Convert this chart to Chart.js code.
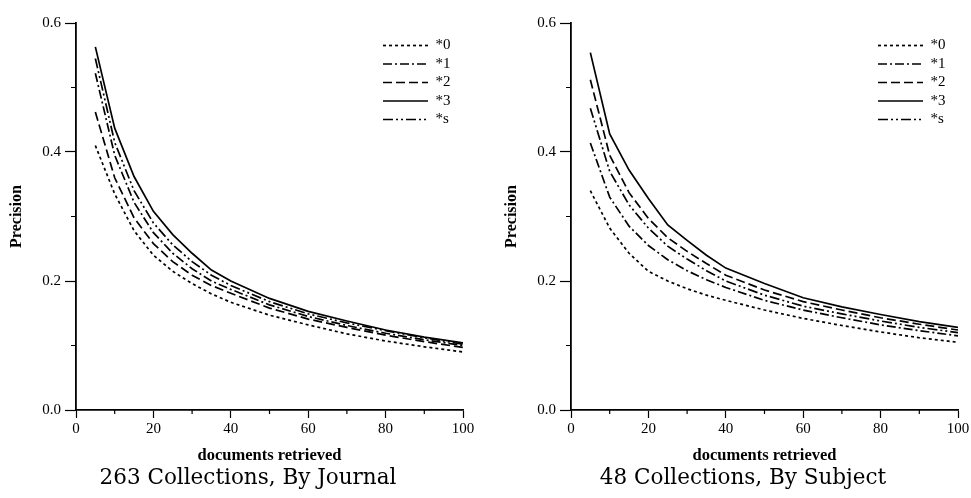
<!DOCTYPE html>
<html>
<head>
<meta charset="utf-8">
<script src="https://cdn.jsdelivr.net/npm/chart.js@4.4.1/dist/chart.umd.min.js"></script>
<style>
  html, body { margin: 0; padding: 0; background: #fff; overflow: hidden; }
  canvas { position: absolute; top: 0; }
  #journalChart { left: 0; }
  #subjectChart { left: 495px; }
</style>
</head>
<body>
<canvas id="journalChart" width="490" height="498"></canvas>
<canvas id="subjectChart" width="490" height="498"></canvas>
<script>
const docsRetrieved = [5, 10, 15, 20, 25, 30, 35, 40, 50, 60, 70, 80, 90, 100];
const seriesNames = ['*0', '*1', '*2', '*3', '*s'];

// 263 collections, by journal
const journal0 = [0.410, 0.335, 0.278, 0.240, 0.215, 0.196, 0.180, 0.167, 0.147, 0.132, 0.118, 0.107, 0.098, 0.090];
const journal1 = [0.522, 0.395, 0.322, 0.275, 0.243, 0.219, 0.200, 0.187, 0.163, 0.145, 0.131, 0.119, 0.109, 0.100];
const journal2 = [0.462, 0.360, 0.298, 0.258, 0.230, 0.209, 0.193, 0.181, 0.158, 0.141, 0.128, 0.116, 0.106, 0.097];
const journal3 = [0.563, 0.437, 0.362, 0.308, 0.272, 0.243, 0.217, 0.200, 0.173, 0.153, 0.138, 0.124, 0.113, 0.104];
const journalS = [0.545, 0.415, 0.340, 0.290, 0.256, 0.230, 0.209, 0.193, 0.168, 0.149, 0.135, 0.123, 0.112, 0.102];

// 48 collections, by subject
const subject0 = [0.340, 0.282, 0.243, 0.215, 0.200, 0.188, 0.178, 0.170, 0.155, 0.142, 0.131, 0.121, 0.112, 0.105];
const subject1 = [0.414, 0.330, 0.285, 0.255, 0.233, 0.216, 0.202, 0.190, 0.170, 0.155, 0.143, 0.132, 0.123, 0.115];
const subject2 = [0.512, 0.395, 0.337, 0.297, 0.267, 0.246, 0.227, 0.209, 0.186, 0.168, 0.155, 0.143, 0.133, 0.124];
const subject3 = [0.554, 0.428, 0.372, 0.328, 0.287, 0.263, 0.240, 0.220, 0.196, 0.174, 0.160, 0.148, 0.137, 0.128];
const subjectS = [0.468, 0.370, 0.318, 0.282, 0.254, 0.234, 0.216, 0.200, 0.178, 0.161, 0.149, 0.138, 0.128, 0.120];

const xMajorTicks = [0, 20, 40, 60, 80, 100];
const xMinorTicks = [10, 30, 50, 70, 90];
const yMajorTicks = [0.0, 0.2, 0.4, 0.6];
const yMinorTicks = [0.1, 0.3, 0.5];

const lineDashes = [[3, 3], [9, 3, 2, 3], [9, 4], [], [10, 3, 2, 3, 2, 3]];
const lineWidth = 1.7;

const serif = 'Liberation Serif';

// small ticks between the labelled ones
const minorTicks = {
    id: 'minorTicks',
    afterDraw(chart) {
        const { ctx, chartArea, scales } = chart;
        ctx.save();
        ctx.strokeStyle = '#000';
        ctx.lineWidth = 1.2;
        ctx.beginPath();
        xMinorTicks.forEach(v => {
            const px = scales.x.getPixelForValue(v);
            ctx.moveTo(px, chartArea.bottom);
            ctx.lineTo(px, chartArea.bottom + 4);
        });
        yMinorTicks.forEach(v => {
            const py = scales.y.getPixelForValue(v);
            ctx.moveTo(chartArea.left, py);
            ctx.lineTo(chartArea.left - 5, py);
        });
        ctx.stroke();
        ctx.restore();
    }
};

// move the in-plot legend to the upper right corner
const legendCorner = {
    id: 'legendCorner',
    afterLayout(chart) {
        const lg = chart.legend;
        const w = lg.width, h = lg.height;
        lg.left = chart.chartArea.right - 83.5;
        lg.top = chart.chartArea.top + 11.5;
        lg.right = lg.left + w;
        lg.bottom = lg.top + h;
    }
};

function legendLabels(chart) {
    const items = Chart.defaults.plugins.legend.labels.generateLabels(chart);
    items.forEach((item, i) => {
        item.lineDash = lineDashes[i];
        item.lineWidth = lineWidth;
        item.strokeStyle = '#000';
        item.pointStyle = 'line';
    });
    return items;
}

function makeChart(canvasId, caption, series) {
    const datasets = series.map((values, i) => ({
        label: seriesNames[i],
        data: docsRetrieved.map((x, j) => ({ x: x, y: values[j] })),
        borderColor: '#000',
        backgroundColor: '#000',
        borderWidth: lineWidth,
        borderDash: lineDashes[i],
        pointRadius: 0,
        tension: 0,
        fill: false
    }));

    return new Chart(document.getElementById(canvasId), {
        type: 'line',
        data: { datasets: datasets },
        plugins: [minorTicks, legendCorner],
        options: {
            responsive: false,
            animation: false,
            devicePixelRatio: 1,
            layout: { padding: { left: 33, top: 23, right: 27, bottom: 0 } },
            scales: {
                x: {
                    type: 'linear',
                    min: 0,
                    max: 100,
                    afterFit: s => { s.height = 58; },
                    afterBuildTicks: s => { s.ticks = xMajorTicks.map(v => ({ value: v })); },
                    ticks: { padding: 2, maxRotation: 0, color: '#000', font: { family: serif, size: 15 } },
                    grid: { drawOnChartArea: false, tickLength: 8, tickColor: '#000', tickWidth: 1.2 },
                    border: { color: '#000', width: 1.8 },
                    title: {
                        display: true,
                        text: 'documents retrieved',
                        color: '#000',
                        font: { family: serif, size: 16.5, weight: 'bold' },
                        padding: { top: 0, bottom: 2 }
                    }
                },
                y: {
                    type: 'linear',
                    min: 0,
                    max: 0.6,
                    afterFit: s => { s.width = 43; },
                    afterBuildTicks: s => { s.ticks = yMajorTicks.map(v => ({ value: v })); },
                    ticks: { padding: 4, color: '#000', font: { family: serif, size: 15 }, callback: v => v.toFixed(1) },
                    grid: { drawOnChartArea: false, tickLength: 11, tickColor: '#000', tickWidth: 1.2 },
                    border: { color: '#000', width: 1.8 },
                    title: {
                        display: true,
                        text: 'Precision',
                        color: '#000',
                        font: { family: serif, size: 16, weight: 'bold' },
                        // title sits left of the scale box, which starts at the padded edge
                        padding: { top: -25.6, bottom: 0 }
                    }
                }
            },
            plugins: {
                legend: {
                    position: 'chartArea',
                    align: 'start',
                    labels: {
                        usePointStyle: true,
                        pointStyle: 'line',
                        pointStyleWidth: 45,
                        padding: 3.5,
                        color: '#000',
                        font: { family: serif, size: 15 },
                        generateLabels: legendLabels
                    }
                },
                title: {
                    display: true,
                    position: 'bottom',
                    text: caption,
                    color: '#000',
                    font: { family: 'DejaVu Serif', size: 21.5, weight: 'normal', lineHeight: 1 },
                    padding: { top: 0, bottom: 8.5 }
                },
                tooltip: { enabled: false }
            }
        }
    });
}

makeChart('journalChart', '263 Collections, By Journal', [journal0, journal1, journal2, journal3, journalS]);
makeChart('subjectChart', '48 Collections, By Subject', [subject0, subject1, subject2, subject3, subjectS]);
</script>
</body>
</html>
